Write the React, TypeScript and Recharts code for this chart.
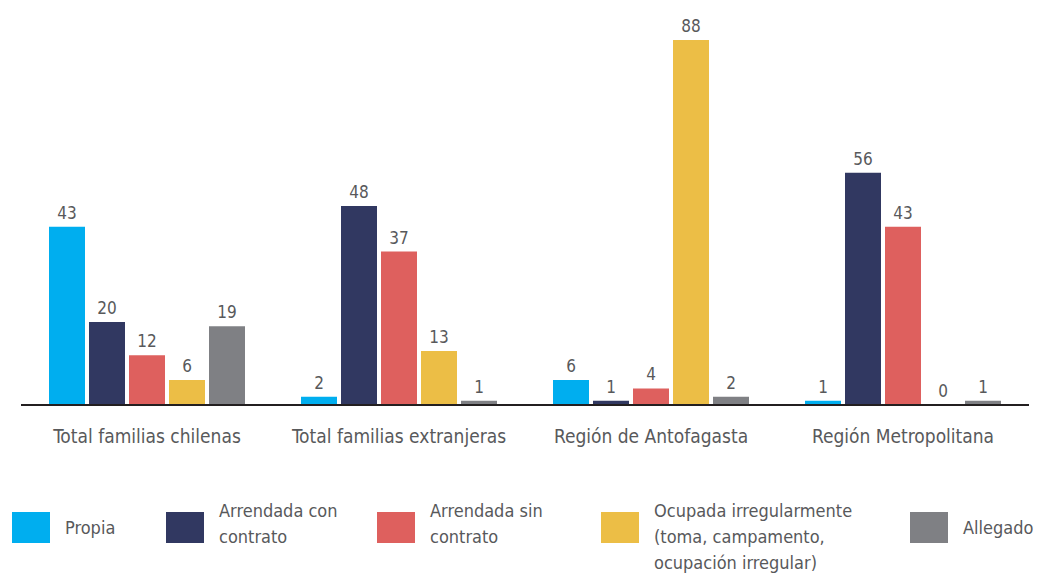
import { BarChart, Bar, XAxis, YAxis, LabelList } from "recharts";

const categories = [
  "Total familias chilenas",
  "Total familias extranjeras",
  "Región de Antofagasta",
  "Región Metropolitana",
];

const propia = [43, 2, 6, 1];
const arrendadaCon = [20, 48, 1, 56];
const arrendadaSin = [12, 37, 4, 43];
const ocupada = [6, 13, 88, 0];
const allegado = [19, 1, 2, 1];

const series = [
  { key: "propia", values: propia, color: "#00AEEF", label: ["Propia"] },
  { key: "arrendadaCon", values: arrendadaCon, color: "#313861", label: ["Arrendada con", "contrato"] },
  { key: "arrendadaSin", values: arrendadaSin, color: "#DE605E", label: ["Arrendada sin", "contrato"] },
  {
    key: "ocupada",
    values: ocupada,
    color: "#ECBE46",
    label: ["Ocupada irregularmente", "(toma, campamento,", "ocupación irregular)"],
  },
  { key: "allegado", values: allegado, color: "#7F8084", label: ["Allegado"] },
];

// legend column positions (left edge of each swatch)
const legendX = [12, 166, 377, 601, 910];

const FONT = '"Liberation Sans Narrow", "DejaVu Sans Condensed", Roboto, sans-serif';
const TEXT = "#58595B";

const data = categories.map((name, i) => {
  const row: Record<string, string | number> = { name };
  series.forEach((s) => {
    row[s.key] = s.values[i];
  });
  return row;
});

function Legend() {
  return (
    <div style={{ position: "absolute", left: 0, top: 503, width: 1037, height: 74 }}>
      {series.map((s, i) => (
        <div key={s.key}>
          <div
            style={{
              position: "absolute",
              left: legendX[i],
              top: 9,
              width: 38,
              height: 31,
              background: s.color,
            }}
          />
          <div
            style={{
              position: "absolute",
              left: legendX[i] + 53,
              top: s.label.length === 1 ? 12 : -5,
              fontFamily: FONT,
              fontSize: 18,
              lineHeight: "26px",
              color: TEXT,
              whiteSpace: "nowrap",
            }}
          >
            {s.label.map((l) => (
              <div key={l}>{l}</div>
            ))}
          </div>
        </div>
      ))}
    </div>
  );
}

export default function App() {
  return (
    <div style={{ position: "relative", width: 1037, height: 577, overflow: "hidden" }}>
      <style>{"body{margin:0}"}</style>
      <BarChart
        width={1037}
        height={478}
        data={data}
        margin={{ top: 40, right: 8, bottom: 43, left: 21 }}
        barSize={36}
        barGap={4}
        barCategoryGap={28}
      >
        <XAxis
          dataKey="name"
          tickLine={false}
          tickMargin={19}
          axisLine={{ stroke: "#231F20", strokeWidth: 2 }}
          tick={{ fill: TEXT, fontSize: 19, fontFamily: FONT }}
          interval={0}
        />
        <YAxis hide domain={[0, 88]} />
        {series.map((s) => (
          <Bar
            key={s.key}
            dataKey={s.key}
            fill={s.color}
            minPointSize={0.5}
            isAnimationActive={false}
          >
            <LabelList
              dataKey={s.key}
              position="top"
              offset={8}
              style={{ fill: TEXT, fontSize: 17, fontFamily: FONT }}
            />
          </Bar>
        ))}
      </BarChart>
      <Legend />
    </div>
  );
}
